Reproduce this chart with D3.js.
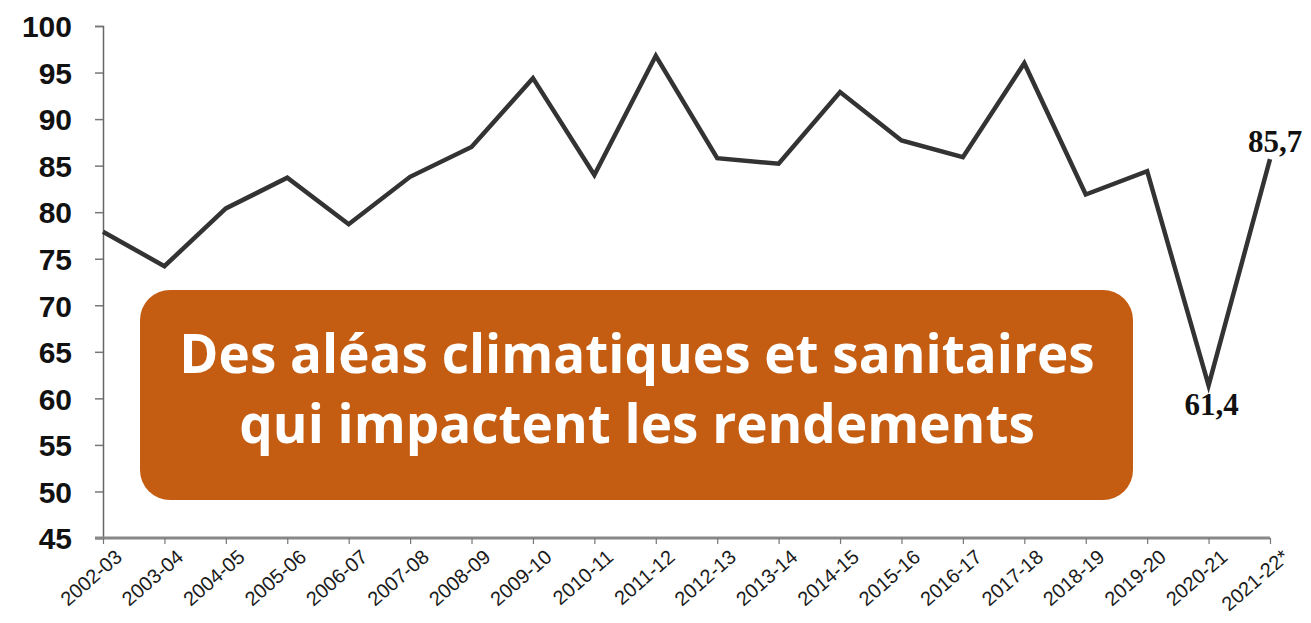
<!DOCTYPE html>
<html>
<head>
<meta charset="utf-8">
<script src="https://cdn.jsdelivr.net/npm/d3@7"></script>
<style>
  body { margin: 0; background: #fff; }
</style>
</head>
<body>
<div id="my_dataviz"></div>
<script>
// campaigns and yields
const campaigns = ["2002-03","2003-04","2004-05","2005-06","2006-07","2007-08","2008-09","2009-10","2010-11","2011-12",
  "2012-13","2013-14","2014-15","2015-16","2016-17","2017-18","2018-19","2019-20","2020-21","2021-22*"];
const yields = [77.9, 74.2, 80.4, 83.7, 78.7, 83.8, 87.0, 94.4, 84.0, 96.8,
  85.8, 85.2, 92.9, 87.7, 85.9, 96.0, 81.9, 84.4, 61.4, 85.7];
const yTicks = [45, 50, 55, 60, 65, 70, 75, 80, 85, 90, 95, 100];
const labelled = ["2020-21", "2021-22*"];
const bannerLines = ["Des aléas climatiques et sanitaires", "qui impactent les rendements"];

const W = 1311, H = 623;
const margin = {top: 26, right: 41, bottom: 85, left: 103},
    width = W - margin.left - margin.right,
    height = H - margin.top - margin.bottom;

const root = d3.select("#my_dataviz")
  .append("svg")
    .attr("width", W)
    .attr("height", H);

const svg = root.append("g")
    .attr("transform", `translate(${margin.left}, ${margin.top})`);

const x = d3.scalePoint()
  .domain(campaigns)
  .range([0, width]);

const y = d3.scaleLinear()
  .domain([45, 100])
  .range([height, 0]);

// Y axis
const yAxis = svg.append("g")
  .call(d3.axisLeft(y).tickValues(yTicks).tickSize(8).tickPadding(23))
yAxis.select(".domain").attr("stroke", "#666").attr("stroke-width", 1.5)
yAxis.selectAll(".tick line").attr("stroke", "#777").attr("stroke-width", 1.5)
yAxis.selectAll(".tick text")
  .attr("font-family", "Liberation Sans, Arial, sans-serif")
  .attr("font-weight", "bold")
  .attr("font-size", 30)
  .attr("fill", "#111")
  .attr("dy", "0.36em")

// X axis
const xAxis = svg.append("g")
  .attr("transform", `translate(0, ${height})`)
  .call(d3.axisBottom(x).tickSize(6).tickSizeOuter(0))
xAxis.select(".domain").attr("stroke", "#888").attr("stroke-width", 3).attr("d", `M-8,0H${width}`)
xAxis.selectAll(".tick line").attr("stroke", "#777").attr("stroke-width", 1.2)
xAxis.selectAll(".tick text")
  .attr("font-family", "Liberation Sans, Arial, sans-serif")
  .attr("font-size", 20)
  .attr("fill", "#1a1a1a")
  .attr("text-anchor", "end")
  .attr("transform", "translate(6, 5) rotate(-41)")
  .attr("dy", "0.6em")

// line
const line = d3.line()
  .x(function(d, i) { return x(campaigns[i]); })
  .y(function(d) { return y(d); })

svg.append("path")
  .datum(yields)
  .attr("fill", "none")
  .attr("stroke", "#333")
  .attr("stroke-width", 4.5)
  .attr("stroke-linejoin", "miter")
  .attr("d", line)

// value labels
const fmt = function(v) { return d3.format(".1f")(v).replace(".", ","); }
svg.selectAll("vlabels")
  .data(labelled)
  .join("text")
    .attr("x", function(d) { return x(d) + (d === "2021-22*" ? 5 : 3); })
    .attr("y", function(d) {
      const v = yields[campaigns.indexOf(d)];
      return d === "2021-22*" ? y(v) - 7 : y(v) + 30;
    })
    .attr("text-anchor", "middle")
    .attr("font-family", "Liberation Serif, Times New Roman, serif")
    .attr("font-weight", "bold")
    .attr("font-size", 31)
    .attr("fill", "#111")
    .text(function(d) { return fmt(yields[campaigns.indexOf(d)]); })

// banner
root.append("rect")
  .attr("x", 140)
  .attr("y", 290)
  .attr("width", 993)
  .attr("height", 210)
  .attr("rx", 30)
  .attr("fill", "#c45c11")

root.selectAll("banner")
  .data(bannerLines)
  .join("text")
    .attr("x", 637)
    .attr("y", function(d, i) { return 373 + i * 70; })
    .attr("text-anchor", "middle")
    .attr("font-family", "Open Sans, Noto Sans, sans-serif")
    .attr("font-weight", "bold")
    .attr("font-size", 53)
    .attr("fill", "#fff")
    .text(function(d) { return d; })
</script>
</body>
</html>
